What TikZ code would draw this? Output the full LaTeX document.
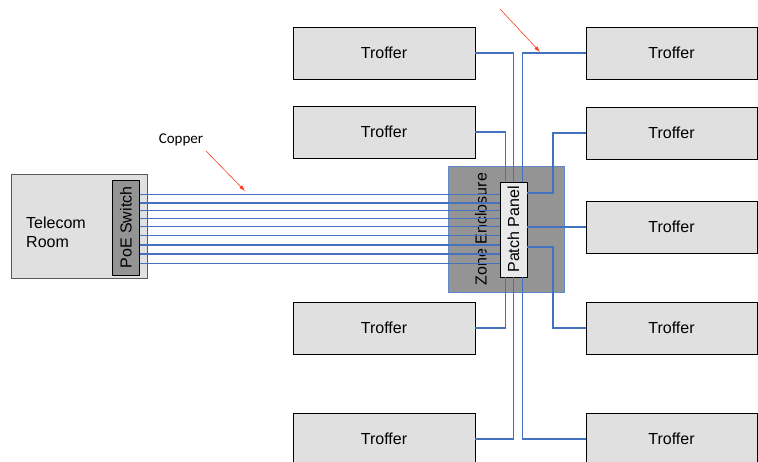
\documentclass[tikz,border=0pt]{standalone}
\usepackage{fontspec}
\setmainfont{Liberation Sans}
\newfontfamily\calloutfont{Carlito}
\usepackage{graphicx}
\usepackage{xcolor}
\usetikzlibrary{arrows.meta, positioning}

\definecolor{cableblue}{RGB}{68,114,190}
\definecolor{boxgray}{RGB}{224,224,224}
\definecolor{darkgray}{RGB}{148,148,148}
\definecolor{calloutred}{RGB}{255,60,30}

\begin{document}
\begin{tikzpicture}[x=1pt, y=-1pt, font=\fontsize{16}{19}\selectfont]

    \tikzstyle{troffer} = [rectangle, draw=black, line width=0.8pt, fill=boxgray, minimum width=182pt, minimum height=52pt, inner sep=0pt]
    \tikzstyle{room} = [rectangle, draw=black!65, line width=0.9pt, fill=boxgray, minimum width=136pt, minimum height=104pt, inner sep=0pt]
    \tikzstyle{panel} = [rectangle, draw=black, line width=0.8pt, minimum width=27pt, minimum height=95pt, inner sep=0pt]
    \tikzstyle{enclosure} = [rectangle, draw=cableblue!85, line width=0.8pt, fill=darkgray, minimum width=116pt, minimum height=126pt]
    \tikzstyle{cable} = [cableblue, line width=1.4pt]
    \tikzstyle{callout} = [calloutred, line width=0.6pt, -{Latex[length=6pt, width=4pt]}]

    \clip (0,0) rectangle (758,461);

    % telecom room
    \node (room) [room] at (79,226) {};
    \node (roomtext) [anchor=west, align=left, inner sep=0pt] at (26,232) {Telecom\\Room};
    \node (poe) [panel, fill=darkgray] at (126,227.5) {\rotatebox{90}{PoE Switch}};

    % zone enclosure
    \node (zone) [enclosure] at (506,229) {};
    \node (zonetext) [inner sep=0pt] at (481,229) {\rotatebox{90}{Zone Enclosure}};
    \node (pp) [panel, fill=boxgray!70!white] at (513.5,229.5) {\rotatebox{90}{Patch Panel}};

    % troffers
    \node (tl1) [troffer] at (384,53) {Troffer};
    \node (tl2) [troffer] at (384,132) {Troffer};
    \node (tl4) [troffer] at (384,328) {Troffer};
    \node (tl5) [troffer] at (384,439) {Troffer};
    \node (tr1) [troffer, minimum width=171pt] at (671.5,53) {Troffer};
    \node (tr2) [troffer, minimum width=171pt] at (671.5,133) {Troffer};
    \node (tr3) [troffer, minimum width=171pt] at (671.5,227) {Troffer};
    \node (tr4) [troffer, minimum width=171pt] at (671.5,328) {Troffer};
    \node (tr5) [troffer, minimum width=171pt] at (671.5,439) {Troffer};

    % copper runs
    \foreach \y in {194.5,203,210.5,218.5,226.5,235.5,245,254,263.5} {
        \coordinate (run) at (0,\y);
        \draw [cable] (run -| poe.east) -- (run -| pp.west);
    }

    \coordinate (bendtop) at (553,193);
    \coordinate (bendbot) at (553,247);
    \draw [cable] (tl1.east) -| (pp.north);
    \draw [cable] (tl2.east) -| ([xshift=-8pt]pp.north);
    \draw [cable] (tr1.west) -| ([xshift=9pt]pp.north);
    \draw [cable] (tr2.west) -| (bendtop) -- (bendtop -| pp.east);
    \draw [cable] (tr3.west) -- (tr3.west -| pp.east);
    \draw [cable] (tr4.west) -| (bendbot) -- (bendbot -| pp.east);
    \draw [cable] (tl4.east) -| ([xshift=-8pt]pp.south);
    \draw [cable] (tl5.east) -| (pp.south);
    \draw [cable] (tr5.west) -| ([xshift=9pt]pp.south);

    % callouts
    \node (copper) [font=\calloutfont\fontsize{15}{18}\selectfont, inner sep=0pt] at (181,140) {Copper};
    \coordinate (coppertip) at (245,191);
    \draw [callout] (206,151) -- (coppertip);
    \coordinate (toptail) at (500,9);
    \coordinate (toptip) at (540,52);
    \draw [callout] (toptail) -- (toptip);

\end{tikzpicture}
\end{document}
